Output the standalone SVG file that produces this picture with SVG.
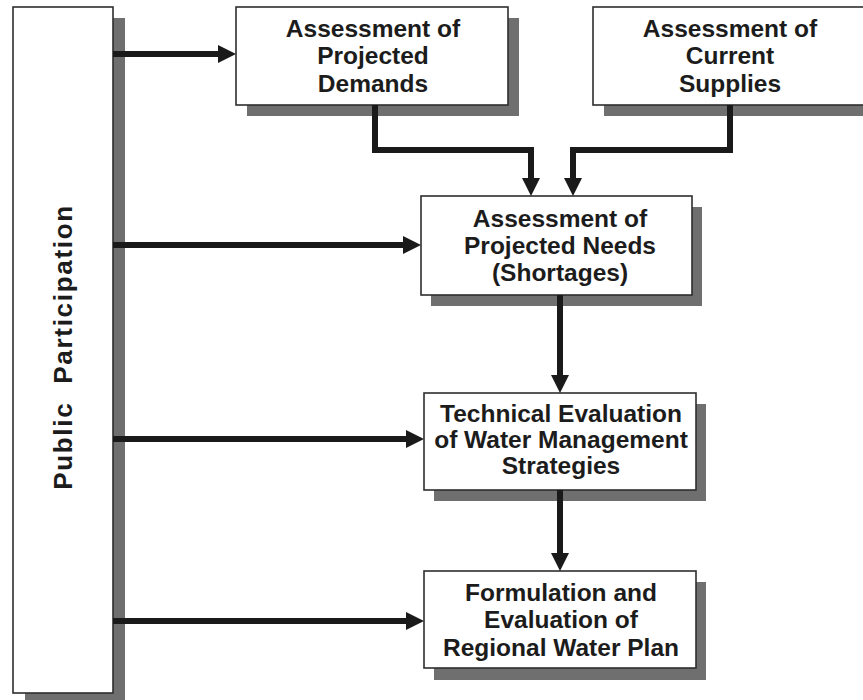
<svg xmlns="http://www.w3.org/2000/svg" width="863" height="700" viewBox="0 0 863 700">
  <style>
    .box { fill: #ffffff; stroke: #2e2e2e; stroke-width: 1.6; }
    .shadow { fill: #6f6f6f; }
    .lbl { font-family: "Liberation Sans", Arial, sans-serif; font-weight: bold; font-size: 24.5px; fill: #1c1c1c; text-anchor: middle; }
    .conn { fill: none; stroke: #1a1a1a; stroke-width: 6; stroke-linejoin: miter; stroke-linecap: butt; }
  </style>
  <defs>
    <marker id="arrow" markerUnits="userSpaceOnUse" markerWidth="18" markerHeight="18" refX="6" refY="9" orient="auto">
      <path d="M0,0 L18,9 L0,18 Z" fill="#1a1a1a"/>
    </marker>
  </defs>
  <rect width="863" height="700" fill="#ffffff"/>

  <g id="public-participation">
    <rect class="shadow" x="25" y="18" width="100" height="690"/>
    <rect class="box" x="13" y="7" width="100" height="686"/>
    <text class="lbl" transform="translate(72,347) rotate(-90)" style="font-size:26px; letter-spacing:1.7px; word-spacing:9px">Public Participation</text>
  </g>

  <g id="projected-demands">
    <rect class="shadow" x="247" y="18" width="272" height="98"/>
    <rect class="box" x="236" y="7" width="272" height="98"/>
    <text class="lbl" x="373" y="37">Assessment of</text>
    <text class="lbl" x="373" y="64">Projected</text>
    <text class="lbl" x="373" y="92">Demands</text>
  </g>

  <g id="current-supplies">
    <rect class="shadow" x="604" y="18" width="275" height="98"/>
    <rect class="box" x="593" y="7" width="275" height="98"/>
    <text class="lbl" x="730" y="37">Assessment of</text>
    <text class="lbl" x="730" y="64">Current</text>
    <text class="lbl" x="730" y="92">Supplies</text>
  </g>

  <g id="projected-needs">
    <rect class="shadow" x="431" y="207" width="271" height="99"/>
    <rect class="box" x="421" y="196" width="271" height="99"/>
    <text class="lbl" x="560" y="227">Assessment of</text>
    <text class="lbl" x="560" y="254">Projected Needs</text>
    <text class="lbl" x="560" y="281">(Shortages)</text>
  </g>

  <g id="technical-evaluation">
    <rect class="shadow" x="434" y="404" width="272" height="97"/>
    <rect class="box" x="424" y="393" width="272" height="97"/>
    <text class="lbl" x="561" y="422">Technical Evaluation</text>
    <text class="lbl" x="561" y="448">of Water Management</text>
    <text class="lbl" x="561" y="474">Strategies</text>
  </g>

  <g id="regional-plan">
    <rect class="shadow" x="434" y="582" width="272" height="98"/>
    <rect class="box" x="424" y="571" width="272" height="97"/>
    <text class="lbl" x="561" y="601">Formulation and</text>
    <text class="lbl" x="561" y="628">Evaluation of</text>
    <text class="lbl" x="561" y="656">Regional Water Plan</text>
  </g>

  <g id="connectors">
    <path class="conn" d="M113,54 H224" marker-end="url(#arrow)"/>
    <path class="conn" d="M113,245 H409" marker-end="url(#arrow)"/>
    <path class="conn" d="M113,439 H412" marker-end="url(#arrow)"/>
    <path class="conn" d="M113,621 H412" marker-end="url(#arrow)"/>
    <path class="conn" d="M375,105 V150 H531 V184" marker-end="url(#arrow)"/>
    <path class="conn" d="M730,105 V150 H573 V184" marker-end="url(#arrow)"/>
    <path class="conn" d="M560,295 V381" marker-end="url(#arrow)"/>
    <path class="conn" d="M560,490 V559" marker-end="url(#arrow)"/>
  </g>
</svg>
